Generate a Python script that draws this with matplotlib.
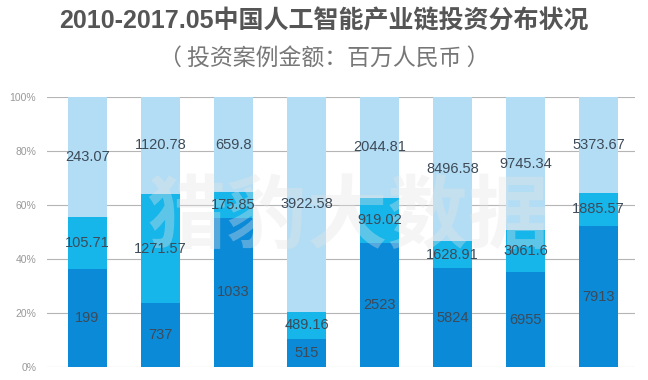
import matplotlib.pyplot as plt
import numpy as np

plt.rcParams['font.family'] = ['Liberation Sans', 'Noto Sans CJK SC', 'DejaVu Sans']

# 投资案例金额（百万人民币），8 个产业链环节
bottom_vals = [199, 737, 1033, 515, 2523, 5824, 6955, 7913]
middle_vals = [105.71, 1271.57, 175.85, 489.16, 919.02, 1628.91, 3061.6, 1885.57]
top_vals = [243.07, 1120.78, 659.8, 3922.58, 2044.81, 8496.58, 9745.34, 5373.67]
y_ticks = [0, 20, 40, 60, 80, 100]

colors = ['#0b8ad8', '#16b5ea', '#b3ddf4']

b = np.array(bottom_vals)
m = np.array(middle_vals)
t = np.array(top_vals)
total = b + m + t
pb = b / total * 100
pm = m / total * 100
pt = t / total * 100
x = np.arange(len(bottom_vals))

fig = plt.figure(figsize=(6.48, 3.80), dpi=100)
ax = fig.add_axes([0.073, 0.034, 0.907, 0.711])

ax.bar(x, pb, width=0.54, color=colors[0], zorder=2)
ax.bar(x, pm, width=0.54, bottom=pb, color=colors[1], zorder=2)
ax.bar(x, pt, width=0.54, bottom=pb + pm, color=colors[2], zorder=2)

def fmt(v):
    return ('%g' % v)

for i in range(len(x)):
    ax.text(x[i], pb[i] / 2, fmt(bottom_vals[i]), ha='center', va='center',
            fontsize=10.5, color='#3d4a58', zorder=4)
    ax.text(x[i], pb[i] + pm[i] / 2, fmt(middle_vals[i]), ha='center', va='center',
            fontsize=10.5, color='#3d4a58', zorder=4)
    ax.text(x[i], pb[i] + pm[i] + pt[i] / 2, fmt(top_vals[i]), ha='center', va='center',
            fontsize=10.5, color='#3d4a58', zorder=4)

ax.set_xlim(-0.55, 7.5)
ax.set_ylim(0, 100)
ax.set_yticks(y_ticks)
ax.set_yticklabels([str(v) + '%' for v in y_ticks], fontsize=7.5, color='#999999')
ax.set_xticks([])
ax.tick_params(axis='y', length=0, pad=8)
ax.grid(axis='y', color='#b5b5b5', linewidth=0.8, zorder=0)
for s in ax.spines.values():
    s.set_visible(False)

# 水印
ax.text(0.51, 0.55, '猎豹大数据', transform=ax.transAxes, ha='center', va='center',
        fontsize=58, fontweight='bold', color='#e4e4e4', alpha=0.35,
        family=['Noto Sans CJK SC'], zorder=3)

fig.text(0.50, 0.942, '2010-2017.05中国人工智能产业链投资分布状况', ha='center', va='center',
         fontsize=18, fontweight='bold', color='#555555',
         family=['Liberation Sans', 'Noto Sans CJK SC'])
fig.text(0.50, 0.848, '（ 投资案例金额：百万人民币 ）', ha='center', va='center',
         fontsize=16.5, color='#777777', family=['Noto Sans CJK SC', 'DejaVu Sans'])

fig.savefig('out.png', dpi=100)
